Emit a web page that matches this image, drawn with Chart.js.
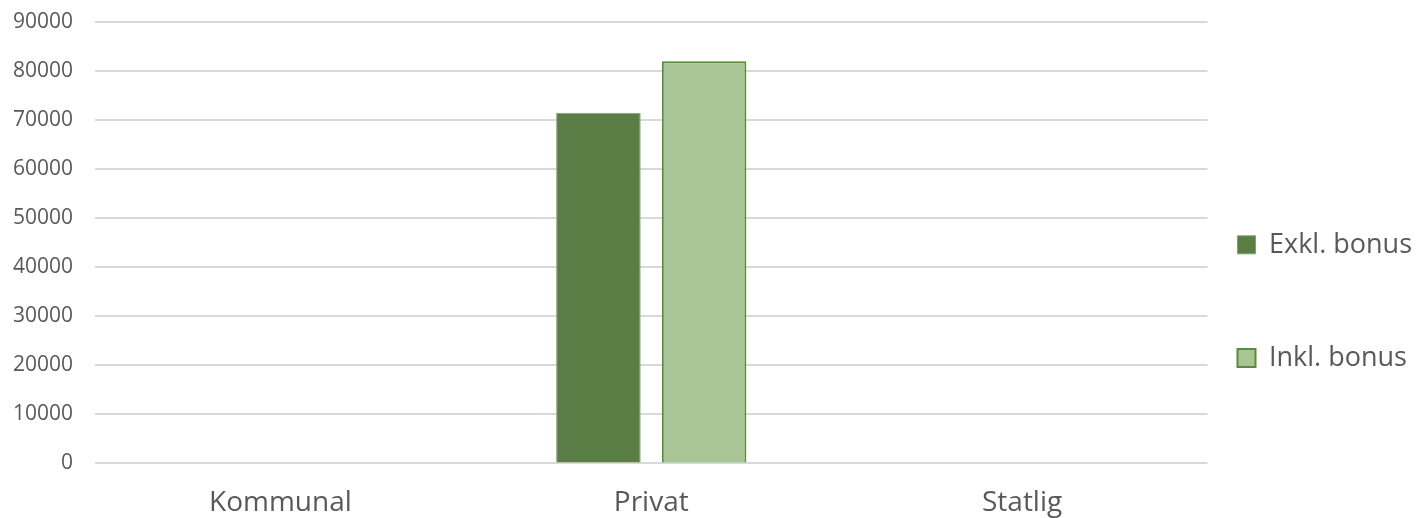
<!DOCTYPE html>
<html>
<head>
<meta charset="utf-8">
<script src="https://cdn.jsdelivr.net/npm/chart.js@4/dist/chart.umd.min.js"></script>
<style>
  body { margin: 0; background: #fff; }
  #wrap { width: 1419px; height: 518px; }
</style>
</head>
<body>
<div id="wrap"><canvas id="salary__canvas" width="1419" height="518"></canvas></div>
<script>
const categories = ["Kommunal", "Privat", "Statlig"];
const exklBonus = [null, 71500, null];
const inklBonus = [null, 82000, null];
const yTicks = [0, 10000, 20000, 30000, 40000, 50000, 60000, 70000, 80000, 90000];

const TEXT_COLOR = "#595959";
const FONT = "'Open Sans', 'Liberation Sans', sans-serif";

function makeChart() {
  const ctx = document.getElementById("salary__canvas").getContext("2d");
  return new Chart(ctx, {
    type: "bar",
    data: {
      labels: categories,
      datasets: [
        {
          label: "Exkl. bonus",
          data: exklBonus,
          backgroundColor: "#5a7d45",
          borderColor: "#82a36c",
          borderWidth: 1,
        },
        {
          label: "Inkl. bonus",
          data: inklBonus,
          backgroundColor: "#a9c595",
          borderColor: "#5b8c3a",
          borderWidth: 2,
        },
      ],
    },
    options: {
      responsive: false,
      animation: false,
      categoryPercentage: 0.57,
      barPercentage: 0.8,
      layout: { padding: { top: 0, right: -3, bottom: -17, left: 0 } },
      plugins: {
        tooltip: { enabled: false },
        legend: {
          position: "right",
          // empty title only pushes the legend items down, like in the original
          title: { display: true, text: " ", font: { size: 10 }, padding: { top: 0, bottom: 112 } },
          labels: {
            color: TEXT_COLOR,
            font: { family: FONT, size: 27, lineHeight: 1.54 },
            boxWidth: 18,
            boxHeight: 18,
            padding: 30,
            // blank second line gives the wide gap between the two items
            generateLabels: (chart) =>
              Chart.defaults.plugins.legend.labels
                .generateLabels(chart)
                .map((item) => ({ ...item, text: [item.text, ""] })),
          },
        },
      },
      scales: {
        x: {
          grid: { display: false },
          border: { display: false },
          ticks: { color: TEXT_COLOR, font: { family: FONT, size: 28 }, padding: 15 },
        },
        y: {
          min: 0,
          max: 90000,
          afterBuildTicks: (axis) => {
            axis.ticks = yTicks.map((v) => ({ value: v }));
          },
          // fixed axis box so the plot starts where the original does
          afterFit: (axis) => {
            axis.width = 95;
            axis.paddingTop = 22;
            axis.paddingBottom = 0;
          },
          grid: { color: "#d9d9d9", lineWidth: 2, drawTicks: false },
          border: { display: false },
          ticks: {
            color: TEXT_COLOR,
            font: { family: FONT, size: 21 },
            padding: 22,
            callback: (value) => String(value),
          },
        },
      },
    },
  });
}

makeChart();
</script>
</body>
</html>
